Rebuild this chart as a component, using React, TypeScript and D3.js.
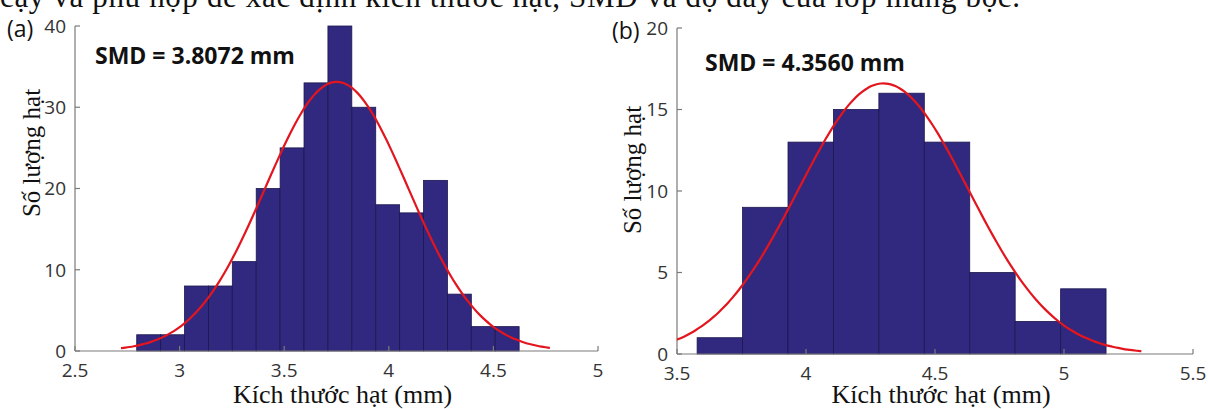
import React, { useEffect, useRef } from "react";
import * as d3 from "d3";

// top line of the page (cut off in the source picture)
const captionText = "cậy và phù hợp để xác định kích thước hạt, SMD và độ dày của lớp màng bọc.";

// panel (a)
const countsA = [2, 2, 8, 8, 11, 20, 25, 33, 40, 30, 18, 17, 21, 7, 3, 3];
const binRangeA = [2.795, 4.623];
const fitA = { mean: 3.751, sd: 0.341, from: 2.72, to: 4.77 };
const xTicksA = [2.5, 3, 3.5, 4, 4.5, 5];
const yTicksA = [0, 10, 20, 30, 40];

// panel (b)
const countsB = [1, 9, 13, 15, 16, 13, 5, 2, 4];
const binRangeB = [3.578, 5.163];
const fitB = { mean: 4.3, sd: 0.33, from: 3.5, to: 5.3 };
const xTicksB = [3.5, 4, 4.5, 5, 5.5];
const yTicksB = [0, 5, 10, 15, 20];

const BAR = "#31287f";
const SANS = "'Open Sans', 'Noto Sans', sans-serif";
const SERIF = "'Liberation Serif', 'DejaVu Serif', serif";

type Panel = {
  tag: string;
  smd: string;
  counts: number[];
  binRange: number[];
  fit: { mean: number; sd: number; from: number; to: number };
  xTicks: number[];
  yTicks: number[];
  x0: number; x1: number; y0: number; y1: number;
  tagX: number; smdX: number; smdY: number;
  ylabX: number; ylabY: number;
};

const panels: Panel[] = [
  {
    tag: "(a)", smd: "SMD = 3.8072 mm", counts: countsA, binRange: binRangeA, fit: fitA,
    xTicks: xTicksA, yTicks: yTicksA,
    x0: 75, x1: 598, y0: 351, y1: 26,
    tagX: 7, smdX: 95, smdY: 64, ylabX: 31, ylabY: 153,
  },
  {
    tag: "(b)", smd: "SMD = 4.3560 mm", counts: countsB, binRange: binRangeB, fit: fitB,
    xTicks: xTicksB, yTicks: yTicksB,
    x0: 677, x1: 1193, y0: 354, y1: 28,
    tagX: 612, smdX: 705, smdY: 71, ylabX: 632, ylabY: 170,
  },
];

function drawPanel(svg: d3.Selection<SVGSVGElement, unknown, null, undefined>, p: Panel) {
  const xs = d3.scaleLinear().domain([p.xTicks[0], p.xTicks[p.xTicks.length - 1]]).range([p.x0, p.x1]);
  const ys = d3.scaleLinear().domain([p.yTicks[0], p.yTicks[p.yTicks.length - 1]]).range([p.y0, p.y1]);
  const g = svg.append("g");

  const n = p.counts.length;
  const bw = (p.binRange[1] - p.binRange[0]) / n;
  const bins = p.counts.map((c, i) => ({ lo: p.binRange[0] + i * bw, hi: p.binRange[0] + (i + 1) * bw, c }));

  g.selectAll("rect.bar")
    .data(bins)
    .join("rect")
    .attr("class", "bar")
    .attr("x", (d) => xs(d.lo))
    .attr("y", (d) => ys(d.c))
    .attr("width", (d) => xs(d.hi) - xs(d.lo))
    .attr("height", (d) => ys(0) - ys(d.c))
    .attr("fill", BAR)
    .attr("stroke", "#1c174e")
    .attr("stroke-width", 0.8);

  // axes (MATLAB style: box off, inward ticks)
  const axisColor = "#7a7a7a";
  g.append("line").attr("x1", p.x0).attr("x2", p.x1).attr("y1", p.y0).attr("y2", p.y0)
    .attr("stroke", axisColor).attr("stroke-width", 1.2);
  g.append("line").attr("x1", p.x0).attr("x2", p.x0).attr("y1", p.y0).attr("y2", p.y1)
    .attr("stroke", axisColor).attr("stroke-width", 1.2);

  p.yTicks.forEach((t) => {
    g.append("line").attr("x1", p.x0).attr("x2", p.x0 + 5).attr("y1", ys(t)).attr("y2", ys(t))
      .attr("stroke", axisColor).attr("stroke-width", 1.2);
    g.append("text").attr("x", p.x0 - 9).attr("y", ys(t)).attr("dy", "0.36em")
      .attr("text-anchor", "end").attr("font-family", SANS).attr("font-size", 19)
      .attr("fill", "#333").text(String(t));
  });
  p.xTicks.forEach((t) => {
    g.append("line").attr("x1", xs(t)).attr("x2", xs(t)).attr("y1", p.y0).attr("y2", p.y0 - 5)
      .attr("stroke", axisColor).attr("stroke-width", 1.2);
    g.append("text").attr("x", xs(t)).attr("y", p.y0 + 26)
      .attr("text-anchor", "middle").attr("font-family", SANS).attr("font-size", 19)
      .attr("fill", "#333").text(String(t));
  });

  // normal fit
  const N = d3.sum(p.counts);
  const amp = (N * bw) / (p.fit.sd * Math.sqrt(2 * Math.PI));
  const xsCurve = d3.range(0, 101).map((i) => p.fit.from + ((p.fit.to - p.fit.from) * i) / 100);
  const pdf = (x: number) => amp * Math.exp(-((x - p.fit.mean) ** 2) / (2 * p.fit.sd ** 2));
  const line = d3.line<number>().x((x) => xs(x)).y((x) => ys(pdf(x))).curve(d3.curveBasis);
  g.append("path").attr("d", line(xsCurve)).attr("fill", "none")
    .attr("stroke", "#e3151e").attr("stroke-width", 2.2);

  // labels
  g.append("text").attr("x", p.tagX).attr("y", p.y1 + 11).attr("font-family", SANS)
    .attr("font-size", 23).attr("fill", "#111").text(p.tag);
  g.append("text").attr("x", p.smdX).attr("y", p.smdY).attr("font-family", SANS)
    .attr("font-size", 23).attr("font-weight", "bold").attr("fill", "#111").text(p.smd);
  g.append("text")
    .attr("transform", `translate(${p.ylabX + 9},${p.ylabY}) rotate(-90)`)
    .attr("text-anchor", "middle").attr("font-family", SERIF).attr("font-size", 25)
    .attr("fill", "#111").text("Số lượng hạt");
  g.append("text").attr("x", (p.x0 + p.x1) / 2 + 6).attr("y", 403)
    .attr("text-anchor", "middle").attr("font-family", SERIF).attr("font-size", 26)
    .attr("fill", "#111").text("Kích thước hạt (mm)");
}

export default function App() {
  const ref = useRef<SVGSVGElement>(null);

  useEffect(() => {
    const svg = d3.select(ref.current as SVGSVGElement);
    svg.selectAll("*").remove();
    svg.append("rect").attr("width", 1208).attr("height", 409).attr("fill", "#fff");
    svg.append("text").attr("x", 0).attr("y", 7).attr("font-family", SERIF)
      .attr("font-size", 31).attr("textLength", 1020).attr("lengthAdjust", "spacing")
      .attr("fill", "#111").text(captionText);
    panels.forEach((p) => drawPanel(svg, p));
  }, []);

  return (
    <svg ref={ref} width={1208} height={409}
      style={{ position: "absolute", left: 0, top: 0, display: "block" }} />
  );
}
